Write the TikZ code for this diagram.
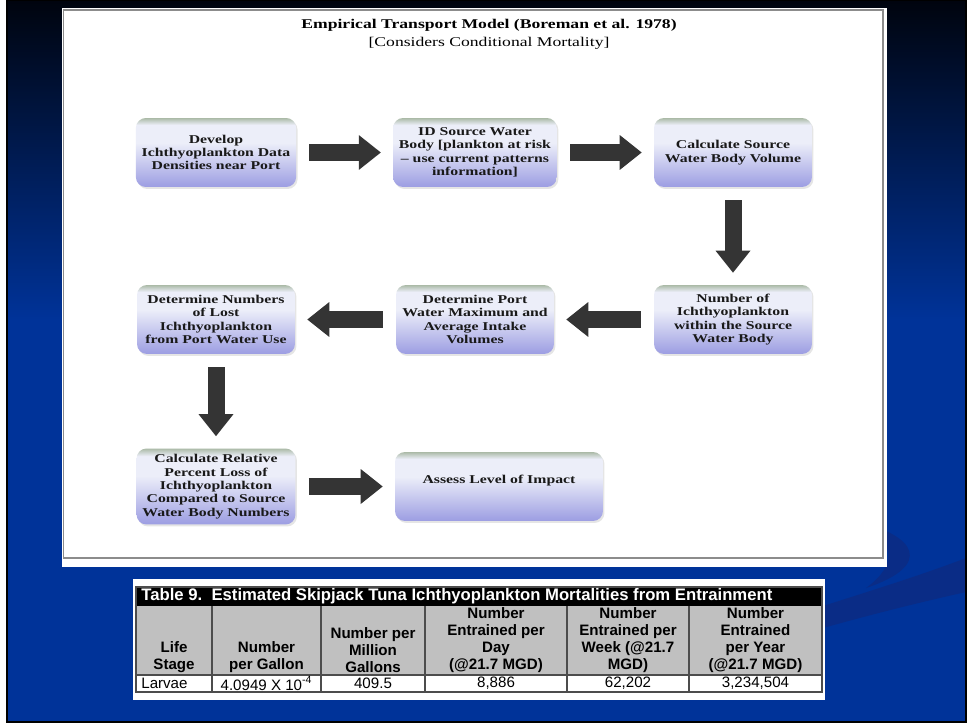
\documentclass[tikz,border=0pt]{standalone}
\usepackage{fontspec}
\usetikzlibrary{arrows.meta,shadows}
\newfontfamily\flowfont[FakeStretch=1.32]{Liberation Serif}
\newfontfamily\tabfont{Liberation Sans}
\definecolor{slideblue}{HTML}{003399}
\definecolor{slidetop}{HTML}{00040E}
\definecolor{swooshblue}{HTML}{0A2C86}
\definecolor{boxtop}{HTML}{ABBAA7}
\definecolor{boxmid}{HTML}{ECEEF9}
\definecolor{boxbot}{HTML}{9C9DE2}
\definecolor{arrowgray}{HTML}{343434}
\definecolor{headgray}{HTML}{C0C0C0}
\definecolor{panelgray}{HTML}{8C8C8C}
\pgfdeclareverticalshading{flowshade}{100bp}{color(0bp)=(boxbot); color(25bp)=(boxbot); color(57bp)=(boxmid); color(70bp)=(boxmid); color(75bp)=(boxtop); color(100bp)=(boxtop)}
\begin{document}
\begin{tikzpicture}[x=0.02cm,y=-0.02cm,
  flowbox/.style={shade, shading=flowshade, rounded corners=0.2cm,
    minimum width=3.16cm, minimum height=1.38cm, align=center, text=black!90,
    font=\flowfont\fontsize{6.8}{7.6}\selectfont\bfseries,
    drop shadow={opacity=0.2, shadow xshift=0.03cm, shadow yshift=-0.04cm}},
  blockarrow/.style={draw=arrowgray, line width=0.34cm,
    -{Triangle[length=0.44cm,width=0.7cm,line width=0pt]},
    shorten <=0.26cm, shorten >=0.24cm},
  tabline/.style={draw=black!70, line width=0.6pt},
  tabhead/.style={anchor=south, align=center, inner sep=0.02cm,
    font=\tabfont\fontsize{8.6}{9.6}\selectfont\bfseries},
  tabcell/.style={inner sep=0.02cm, font=\tabfont\fontsize{8.6}{9.6}\selectfont}]
  \useasboundingbox (0,0) rectangle (967,723);
  \fill[white] (0,0) rectangle (967,723);
  \shade[top color=slidetop, bottom color=slideblue] (7,0) rectangle (966,320);
  \fill[slideblue] (7,319) rectangle (966,722);
  \fill[swooshblue] (823,606) .. controls (880,588) and (930,572) .. (966,558)
    -- (966,592) .. controls (930,600) and (880,612) .. (823,628) -- cycle;
  \fill[swooshblue] (858,522) .. controls (915,535) and (935,565) .. (866,588)
    .. controls (898,565) and (896,540) .. (858,522) -- cycle;
  \draw[black, line width=1pt] (7,0) rectangle (966,722);

  \fill[white] (62,8) rectangle (887,567);
  \draw[panelgray, line width=0.03cm] (63.5,10) rectangle (883,558);
  \node[font=\flowfont\fontsize{7.6}{9}\selectfont\bfseries] (ttl) at (489,25)
    {Empirical Transport Model (Boreman et al. 1978)};
  \node[font=\flowfont\fontsize{7.6}{9}\selectfont] (subttl) at (489,43)
    {[Considers Conditional Mortality]};

  \node[flowbox] (dev) at (216,152.5) {Develop\\Ichthyoplankton Data\\Densities near Port};
  \node[flowbox] (idsrc) at (475,152.5) {ID Source Water\\Body [plankton at risk\\\textendash{} use current patterns\\information]};
  \node[flowbox] (calcvol) at (733,152.5) {Calculate Source\\Water Body Volume};
  \node[flowbox] (numsrc) at (733,319.5) {Number of\\Ichthyoplankton\\within the Source\\Water Body};
  \node[flowbox] (portvol) at (475,319.5) {Determine Port\\Water Maximum and\\Average Intake\\Volumes};
  \node[flowbox] (lost) at (216,319.5) {Determine Numbers\\of Lost\\Ichthyoplankton\\from Port Water Use};
  \node[flowbox] (relloss) at (216,486.5) {Calculate Relative\\Percent Loss of\\Ichthyoplankton\\Compared to Source\\Water Body Numbers};
  \node[flowbox, minimum width=4.16cm] (assess) at (499,486.5) {\raisebox{0.3cm}{Assess Level of Impact}};

  \draw[blockarrow] (dev) -- (idsrc);
  \draw[blockarrow] (idsrc) -- (calcvol);
  \draw[blockarrow] (calcvol) -- (numsrc);
  \draw[blockarrow] (numsrc) -- (portvol);
  \draw[blockarrow] (portvol) -- (lost);
  \draw[blockarrow] (lost) -- (relloss);
  \draw[blockarrow] (relloss) -- (assess);

  \fill[white] (133,579) rectangle (825,700);
  \fill[black] (136,587) rectangle (822,606);
  \fill[headgray] (136,606) rectangle (822,675);
  \draw[tabline] (136,587) rectangle (822,692);
  \draw[tabline] (136,675) -- (822,675);
  \foreach \cx in {212,321,425,567,689}
    \draw[tabline] (\cx,606) -- (\cx,692);
  \node[tabcell, anchor=west, text=white, font=\tabfont\fontsize{9.5}{10}\selectfont\bfseries] (tabttl) at (140,596.5)
    {Table 9.\ \ Estimated Skipjack Tuna Ichthyoplankton Mortalities from Entrainment};
  \foreach \cx/\nm/\txt in {174/hlife/{Life\\Stage}, 266.5/hgal/{Number\\per Gallon},
      373/hmill/{Number per\\Million\\Gallons}, 496/hday/{Number\\Entrained per\\Day\\(@21.7 MGD)},
      628/hweek/{Number\\Entrained per\\Week (@21.7\\MGD)}, 755.5/hyear/{Number\\Entrained\\per Year\\(@21.7 MGD)}}
    \node[tabhead] (\nm) at (\cx,674) {\txt};
  \node[tabcell, anchor=west] (dlife) at (140,683.5) {Larvae};
  \foreach \cx/\nm/\txt in {266.5/dgal/{4.0949 X 10\textsuperscript{-4}}, 373/dmill/{409.5},
      496/dday/{8,886}, 628/dweek/{62,202}, 755.5/dyear/{3,234,504}}
    \node[tabcell] (\nm) at (\cx,683.5) {\txt};
\end{tikzpicture}
\end{document}
